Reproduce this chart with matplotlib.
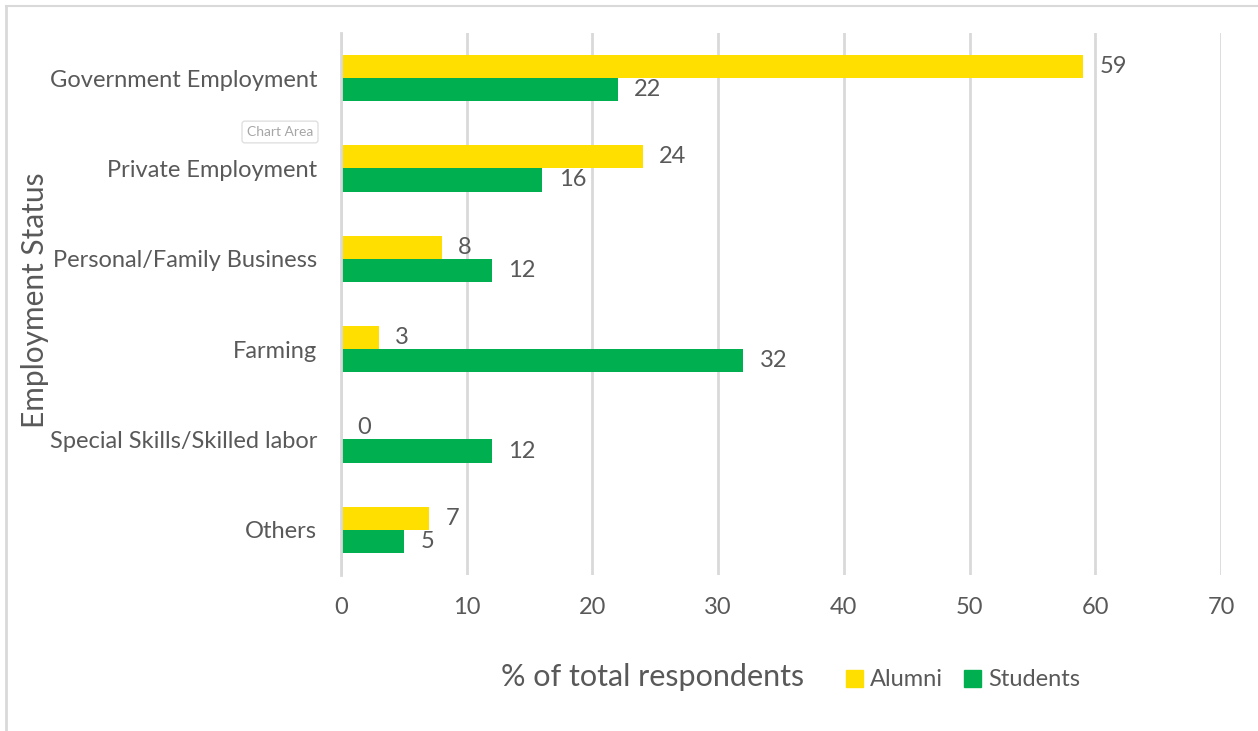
import numpy as np
import matplotlib.pyplot as plt
from matplotlib.lines import Line2D
from matplotlib.patches import Patch

plt.rcParams['font.family'] = ['Lato', 'DejaVu Sans']

categories = ['Government Employment', 'Private Employment', 'Personal/Family Business',
              'Farming', 'Special Skills/Skilled labor', 'Others']
alumni = [59, 24, 8, 3, 0, 7]
students = [22, 16, 12, 32, 12, 5]

yellow = '#FFDF00'
green = '#00B050'
txt = '#595959'
grid = '#D9D9D9'

fig = plt.figure(figsize=(12.58, 7.31), dpi=100)
fig.patch.set_facecolor('white')
ax = fig.add_axes([0.271, 0.2134, 0.6996, 0.7415])

y = np.arange(len(categories))
h = 0.255
b1 = ax.barh(y - h / 2, alumni, height=h, color=yellow, label='Alumni')
b2 = ax.barh(y + h / 2, students, height=h, color=green, label='Students')

for bars, vals in ((b1, alumni), (b2, students)):
    for bar, v in zip(bars, vals):
        ax.annotate(str(v), (v, bar.get_y() + bar.get_height() / 2),
                    xytext=(12, 0), textcoords='offset points',
                    ha='left', va='center', fontsize=17, color=txt)

ax.set_xlim(0, 70)
ax.set_ylim(len(categories) - 0.5, -0.5)
ax.set_xticks(range(0, 71, 10))
ax.set_yticks(y)
ax.set_yticklabels(categories)
ax.tick_params(axis='both', length=0, labelsize=17, labelcolor=txt)
ax.tick_params(axis='y', pad=17)
ax.tick_params(axis='x', pad=16)
ax.xaxis.grid(True, color=grid, linewidth=2)
ax.set_axisbelow(True)
for s in ['top', 'right', 'bottom']:
    ax.spines[s].set_visible(False)
ax.spines['left'].set_color(grid)
ax.spines['left'].set_linewidth(2)

fig.text(35 / 1258, 1 - 300 / 731, 'Employment Status', rotation=90,
         ha='center', va='center', fontsize=21.5, color=txt)
fig.text(653 / 1258, 1 - 677 / 731, '% of total respondents',
         ha='center', va='center', fontsize=22, color=txt)

handles = [Patch(color=yellow), Patch(color=green)]
fig.legend(handles, ['Alumni', 'Students'], loc='center left',
           bbox_to_anchor=(837 / 1258, 1 - 680 / 731), ncol=2, frameon=False,
           fontsize=17, labelcolor=txt, handlelength=0.7, handleheight=0.7,
           handletextpad=0.3, columnspacing=0.9, borderaxespad=0)

# chart area border and tooltip
fig.add_artist(Line2D([6 / 1258, 6 / 1258], [0, 1 - 6 / 731], color='#D9D9D9', linewidth=2))
fig.add_artist(Line2D([6 / 1258, 1], [1 - 6 / 731, 1 - 6 / 731], color='#D9D9D9', linewidth=1.5))
fig.text(280 / 1258, 1 - 132 / 731, 'Chart Area', ha='center', va='center',
         fontsize=10, color='#A6A6A6',
         bbox=dict(boxstyle='round,pad=0.35,rounding_size=0.2', fc='white', ec='#E0E0E0', lw=1))

fig.savefig('out.png', dpi=100)
